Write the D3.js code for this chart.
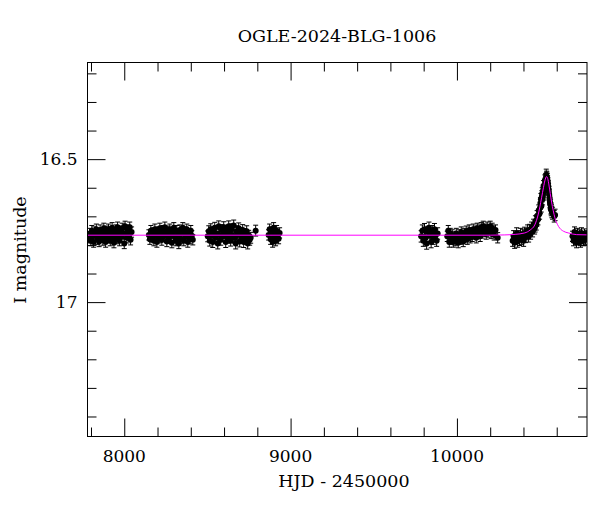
<!DOCTYPE html>
<html>
<head>
<meta charset="utf-8">
<script src="https://cdn.jsdelivr.net/npm/d3@7"></script>
<style>
  body { margin: 0; background: #fff; }
  svg text { font-family: "DejaVu Serif", "Liberation Serif", serif; fill: #000; }
</style>
</head>
<body>
<svg id="chart"></svg>
<script>
// OGLE photometry, I band (HJD - 2450000, mag)
const season2017 = [[7788,16.775],[7794,16.760],[7799,16.785],[7805,16.750],[7810,16.770],[7816,16.790],[7821,16.755],[7827,16.768],[7832,16.745],[7838,16.780],[7843,16.762],[7849,16.788],[7855,16.748],[7860,16.772],[7866,16.758],[7871,16.783],[7877,16.742],[7882,16.766],[7888,16.790],[7894,16.752],[7899,16.775],[7905,16.745],[7910,16.768],[7916,16.785],[7921,16.755],[7927,16.740],[7933,16.772],[7938,16.792],[7944,16.760],[7949,16.748],[7955,16.778],[7960,16.738],[7966,16.765],[7972,16.785],[7977,16.752],[7983,16.770],[7988,16.742],[7994,16.762],[8000,16.795],[8005,16.735],[8011,16.758],[8016,16.775],[8022,16.748],[8027,16.765],[8033,16.738],[8038,16.782],[8044,16.755]];
const season2018 = [[8148,16.765],[8154,16.780],[8160,16.750],[8166,16.772],[8172,16.758],[8178,16.785],[8184,16.745],[8190,16.768],[8196,16.790],[8202,16.755],[8208,16.775],[8214,16.742],[8220,16.762],[8226,16.783],[8232,16.750],[8238,16.770],[8244,16.738],[8250,16.765],[8256,16.788],[8262,16.752],[8268,16.776],[8274,16.745],[8280,16.768],[8286,16.792],[8292,16.757],[8298,16.740],[8304,16.772],[8310,16.785],[8316,16.750],[8322,16.765],[8328,16.795],[8334,16.748],[8340,16.778],[8346,16.760],[8352,16.740],[8358,16.785],[8364,16.755],[8370,16.770],[8376,16.745],[8382,16.790],[8388,16.762],[8394,16.778],[8400,16.750],[8406,16.768],[8412,16.782]];
const season2019 = [[8502,16.770],[8508,16.752],[8514,16.785],[8520,16.745],[8526,16.768],[8532,16.790],[8538,16.755],[8544,16.740],[8550,16.775],[8556,16.760],[8562,16.795],[8568,16.735],[8574,16.765],[8580,16.782],[8586,16.748],[8592,16.770],[8598,16.738],[8604,16.758],[8610,16.790],[8616,16.750],[8622,16.775],[8628,16.735],[8634,16.762],[8640,16.785],[8646,16.745],[8652,16.768],[8658,16.732],[8664,16.775],[8670,16.795],[8676,16.752],[8682,16.765],[8688,16.742],[8694,16.788],[8700,16.758],[8706,16.772],[8712,16.748],[8718,16.790],[8724,16.762],[8730,16.778],[8736,16.752],[8742,16.795],[8748,16.768],[8754,16.782],[8760,16.775],[8790,16.750]];
const season2020 = [[8868,16.765],[8874,16.745],[8880,16.780],[8886,16.755],[8892,16.790],[8898,16.740],[8904,16.770],[8910,16.785],[8916,16.750],[8922,16.765],[8928,16.778],[8934,16.758]];
const season2022 = [[9785,16.770],[9792,16.750],[9798,16.785],[9805,16.745],[9812,16.775],[9818,16.795],[9825,16.755],[9832,16.740],[9838,16.768],[9845,16.790],[9852,16.752],[9858,16.778],[9865,16.745],[9872,16.765],[9878,16.785],[9884,16.760]];
const season2023 = [[9942,16.770],[9948,16.750],[9954,16.790],[9960,16.760],[9966,16.780],[9972,16.765],[9978,16.790],[9984,16.772],[9990,16.785],[9996,16.760],[10002,16.778],[10008,16.792],[10014,16.765],[10020,16.780],[10026,16.755],[10032,16.775],[10038,16.788],[10044,16.760],[10050,16.772],[10056,16.752],[10062,16.780],[10068,16.765],[10074,16.748],[10080,16.775],[10086,16.758],[10092,16.770],[10098,16.745],[10104,16.762],[10110,16.752],[10116,16.775],[10122,16.742],[10128,16.760],[10134,16.748],[10140,16.770],[10146,16.740],[10152,16.758],[10158,16.735],[10164,16.752],[10170,16.745],[10176,16.762],[10182,16.738],[10188,16.755],[10194,16.748],[10200,16.735],[10206,16.760],[10212,16.742],[10218,16.752],[10224,16.765],[10232,16.748],[10245,16.775]];
const season2024 = [[10335,16.785],[10341,16.770],[10347,16.792],[10353,16.775],[10359,16.760],[10365,16.788],[10371,16.770],[10377,16.782],[10383,16.762],[10389,16.778],[10395,16.765],[10401,16.785],[10407,16.758],[10413,16.772],[10419,16.762],[10425,16.750],[10431,16.770],[10437,16.748],[10443,16.760],[10449,16.740],[10455,16.752],[10461,16.730],[10467,16.742],[10470,16.735],[10472,16.718],[10477,16.728],[10480,16.715],[10482,16.700],[10487,16.710],[10490,16.695],[10492,16.680],[10497,16.690],[10500,16.670],[10502,16.655],[10505,16.640],[10507,16.665],[10511,16.630],[10513,16.620],[10515,16.640],[10517,16.625],[10519,16.610],[10521,16.595],[10523,16.615],[10525,16.605],[10527,16.590],[10529,16.575],[10531,16.585],[10533,16.580],[10535,16.570],[10537,16.555],[10539,16.562],[10541,16.565],[10543,16.570],[10545,16.578],[10547,16.585],[10549,16.595],[10551,16.605],[10553,16.615],[10555,16.625],[10557,16.640],[10559,16.650],[10561,16.655],[10563,16.660],[10565,16.672],[10567,16.678],[10571,16.685],[10575,16.690],[10585,16.700],[10590,16.695]];
const season2025 = [[10695,16.770],[10701,16.785],[10707,16.755],[10713,16.775],[10719,16.792],[10725,16.760],[10731,16.780],[10737,16.765],[10743,16.790],[10749,16.758],[10755,16.775],[10761,16.785],[10767,16.762],[10773,16.780],[10779,16.768],[10785,16.772]];
const seasonErr = [0.018, 0.018, 0.019, 0.018, 0.020, 0.018, 0.020, 0.018];

// microlensing model
const modelHjd = [7779, 10200, 10288, 10350, 10408, 10440, 10468, 10488, 10509, 10520, 10529, 10539, 10546, 10553, 10561, 10569, 10579, 10589, 10604, 10619, 10640, 10669, 10720, 10790];
const modelMag = [16.766, 16.766, 16.765, 16.763, 16.758, 16.748, 16.730, 16.695, 16.635, 16.600, 16.575, 16.561, 16.568, 16.590, 16.620, 16.650, 16.680, 16.705, 16.728, 16.742, 16.752, 16.758, 16.764, 16.765];

const xMajor = [8000, 9000, 10000];
const yMajor = [16.5, 17];
const yLabels = ["16.5", "17"];

const title = "OGLE-2024-BLG-1006";
const xTitle = "HJD - 2450000";
const yTitle = "I magnitude";

// set the dimensions and margins of the graph
var W = 600, H = 512;
var margin = {top: 62.5, right: 13, bottom: 75.5, left: 87.5},
    width = W - margin.left - margin.right,
    height = H - margin.top - margin.bottom;

var x = d3.scaleLinear().domain([7779, 10782]).range([0, width]);
var y = d3.scaleLinear().domain([16.162, 17.47]).range([0, height]);

var root = d3.select("#chart").attr("width", W).attr("height", H);
var svg = root.append("g")
  .attr("transform", "translate(" + margin.left + "," + margin.top + ")");

svg.append("clipPath").attr("id", "plotclip")
  .append("rect").attr("width", width).attr("height", height);

// minor + major ticks, inward on all four sides
var xMinor = d3.range(7800, 10800, 200).filter(function(v) { return xMajor.indexOf(v) < 0; });
var yMinor = d3.range(16.2, 17.45, 0.1).map(function(v) { return +v.toFixed(1); })
  .filter(function(v) { return yMajor.indexOf(v) < 0; });

function tickAxes(axisFn, scale, values, size, transform) {
  var g = svg.append("g").attr("transform", transform)
    .call(axisFn(scale).tickValues(values).tickSize(size).tickFormat(""));
  g.select(".domain").remove();
  g.selectAll("line").attr("stroke", "#000").attr("stroke-width", 1);
  return g;
}
tickAxes(d3.axisBottom, x, xMinor, -9, "translate(0," + height + ")");
tickAxes(d3.axisBottom, x, xMajor, -18, "translate(0," + height + ")");
tickAxes(d3.axisTop, x, xMinor, -9, "translate(0,0)");
tickAxes(d3.axisTop, x, xMajor, -18, "translate(0,0)");
tickAxes(d3.axisLeft, y, yMinor, -9, "translate(0,0)");
tickAxes(d3.axisLeft, y, yMajor, -18, "translate(0,0)");
tickAxes(d3.axisRight, y, yMinor, -9, "translate(" + width + ",0)");
tickAxes(d3.axisRight, y, yMajor, -18, "translate(" + width + ",0)");

// tick labels
svg.append("g").selectAll("text").data(xMajor).join("text")
  .attr("x", function(d) { return x(d); })
  .attr("y", height + 25)
  .attr("text-anchor", "middle")
  .style("font-size", "17px")
  .text(function(d) { return d; });

svg.append("g").selectAll("text").data(yMajor).join("text")
  .attr("x", -10)
  .attr("y", function(d) { return y(d) + 6; })
  .attr("text-anchor", "end")
  .style("font-size", "17px")
  .text(function(d, i) { return yLabels[i]; });

// data points with error bars
var seasons = [season2017, season2018, season2019, season2020, season2022, season2023, season2024, season2025];
var pts = svg.append("g").attr("clip-path", "url(#plotclip)");
seasons.forEach(function(s, si) {
  var e = seasonErr[si];
  var g = pts.append("g");
  g.selectAll("path.err").data(s).join("path")
    .attr("class", "err")
    .attr("d", function(d) {
      var cx = x(d[0]), y0 = y(d[1] - e), y1 = y(d[1] + e);
      return "M" + cx + "," + y0 + "V" + y1 +
        "M" + (cx - 2.5) + "," + y0 + "H" + (cx + 2.5) +
        "M" + (cx - 2.5) + "," + y1 + "H" + (cx + 2.5);
    })
    .attr("fill", "none")
    .attr("stroke", "#000")
    .attr("stroke-width", 1);
  g.selectAll("circle").data(s).join("circle")
    .attr("cx", function(d) { return x(d[0]); })
    .attr("cy", function(d) { return y(d[1]); })
    .attr("r", 3)
    .attr("fill", "#000");
});

// model curve
var line = d3.line()
  .x(function(d, i) { return x(modelHjd[i]); })
  .y(function(d) { return y(d); })
  .curve(d3.curveMonotoneX);
svg.append("path")
  .attr("clip-path", "url(#plotclip)")
  .attr("d", line(modelMag))
  .attr("fill", "none")
  .attr("stroke", "#ff00ff")
  .attr("stroke-width", 1);

// frame
svg.append("rect")
  .attr("width", width).attr("height", height)
  .attr("fill", "none").attr("stroke", "#000").attr("stroke-width", 1);

// titles
root.append("text")
  .attr("x", 337).attr("y", 42)
  .attr("text-anchor", "middle")
  .style("font-size", "17.5px")
  .text(title);

root.append("text")
  .attr("x", 344).attr("y", 487)
  .attr("text-anchor", "middle")
  .style("font-size", "17.5px")
  .text(xTitle);

root.append("text")
  .attr("transform", "translate(26,250) rotate(-90)")
  .attr("text-anchor", "middle")
  .style("font-size", "17.5px")
  .text(yTitle);
</script>
</body>
</html>
